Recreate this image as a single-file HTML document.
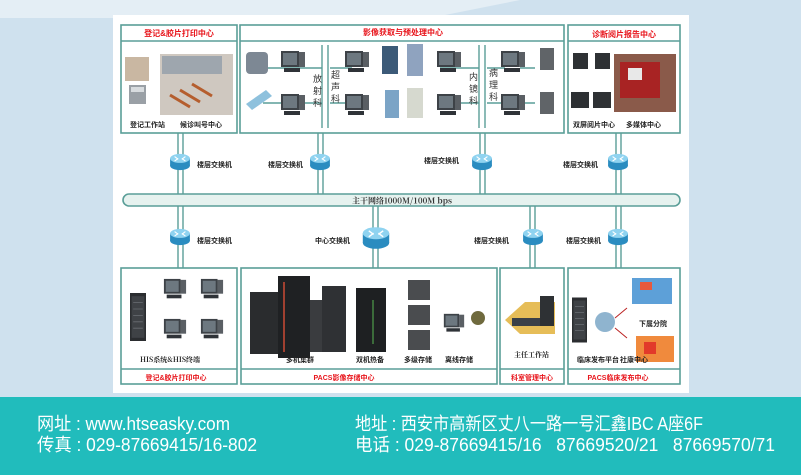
<!DOCTYPE html>
<html><head><meta charset="utf-8"><style>
html,body{margin:0;padding:0;width:801px;height:475px;overflow:hidden;background:#cfe1ee}
svg{display:block}
text{font-family:"Liberation Sans","Noto Sans CJK SC",sans-serif}
.cn{font-family:"Noto Serif CJK SC","Noto Sans CJK SC",serif;font-weight:bold}
</style></head><body>
<svg width="801" height="475" viewBox="0 0 801 475" xmlns="http://www.w3.org/2000/svg">
<defs>
<symbol id="mon" viewBox="0 0 26 26">
<rect x="1" y="1" width="18" height="16" fill="#3d4247"/><rect x="3" y="3" width="14" height="12" fill="#6d7880"/>
<rect x="19" y="2" width="6" height="15" fill="#5a5f64"/><rect x="4" y="18" width="16" height="4" fill="#2f3338"/>
</symbol>
<symbol id="sw" viewBox="0 0 24 20">
<ellipse cx="12" cy="14" rx="11" ry="5" fill="#2a8cc0"/><rect x="1" y="6" width="22" height="8" fill="#2a8cc0"/>
<ellipse cx="12" cy="6" rx="11" ry="5" fill="#8fd3f0"/>
<path d="M6 4 L10 7 M18 4 L14 7 M6 9 L10 6 M18 9 L14 6" stroke="#fff" stroke-width="1.2"/>
</symbol>
<symbol id="srv" viewBox="0 0 20 60">
<rect x="0" y="0" width="20" height="60" fill="#2b2d30"/><rect x="2" y="4" width="16" height="52" fill="#3f4246"/>
<path d="M4 12h12M4 20h12M4 28h12M4 36h12M4 44h12" stroke="#6a6e73"/>
</symbol>
</defs>
<rect width="801" height="475" fill="#cfe1ee"/>
<path d="M0 0 L520 0 L430 18 L0 18Z" fill="#e4eef5"/>
<rect x="113" y="15" width="576" height="378" fill="#fff"/>
<rect x="0" y="397" width="801" height="78" fill="#21bcbc"/>

<g fill="none" stroke="#5a9e98" stroke-width="1.6">
<rect x="121" y="25" width="116" height="108"/><line x1="121" y1="41" x2="237" y2="41"/>
<rect x="240" y="25" width="324" height="108"/><line x1="240" y1="41" x2="564" y2="41"/>
<rect x="568" y="25" width="112" height="108"/><line x1="568" y1="41" x2="680" y2="41"/>
<rect x="121" y="268" width="116" height="116"/><line x1="121" y1="369" x2="237" y2="369"/>
<rect x="241" y="268" width="256" height="116"/><line x1="241" y1="369" x2="497" y2="369"/>
<rect x="500" y="268" width="64" height="116"/><line x1="500" y1="369" x2="564" y2="369"/>
<rect x="568" y="268" width="112" height="116"/><line x1="568" y1="369" x2="680" y2="369"/>
</g>
<g stroke="#5a9e98" stroke-width="1.4">
<path d="M178 133V194M183 133V194M318 133V194M323 133V194M480 133V194M485 133V194M616 133V194M621 133V194"/>
<path d="M178 206V268M183 206V268M373 206V268M378 206V268M530 206V268M535 206V268M616 206V268M621 206V268"/>
<path d="M322 45V128M328 45V128M479 45V128M485 45V128"/>
<path d="M272 68H322M272 103H322M330 68H352M330 103H352M440 68H479M440 103H479M487 68H505M487 103H505M263 68H278M263 103H278M520 68H535M520 103H535"/>
</g>
<rect x="123" y="194" width="557" height="12" rx="6" fill="#e6f2ef" stroke="#5a9e98" stroke-width="1.6"/>
<text x="352" y="203.5" font-size="8" fill="#333" class="cn">主干网络1000M/100M bps</text>

<use href="#sw" x="169" y="153" width="22" height="18"/>
<use href="#sw" x="309" y="153" width="22" height="18"/>
<use href="#sw" x="471" y="153" width="22" height="18"/>
<use href="#sw" x="607" y="153" width="22" height="18"/>
<use href="#sw" x="169" y="228" width="22" height="18"/>
<use href="#sw" x="361" y="226" width="30" height="24"/>
<use href="#sw" x="522" y="228" width="22" height="18"/>
<use href="#sw" x="607" y="228" width="22" height="18"/>
<g font-size="7" fill="#222" class="cn">
<text x="197" y="167">楼层交换机</text><text x="268" y="167">楼层交换机</text>
<text x="424" y="163">楼层交换机</text><text x="563" y="167">楼层交换机</text>
<text x="197" y="243">楼层交换机</text><text x="315" y="243">中心交换机</text>
<text x="474" y="243">楼层交换机</text><text x="566" y="243">楼层交换机</text>
</g>

<g font-size="8" fill="#e8141b" class="cn" text-anchor="middle">
<text x="179" y="36">登记&amp;胶片打印中心</text>
<text x="403" y="35">影像获取与预处理中心</text>
<text x="624" y="37">诊断阅片报告中心</text>
</g>
<rect x="125" y="57" width="24" height="24" fill="#c9b7a2"/>
<rect x="129" y="85" width="17" height="19" fill="#9aa0a6"/><rect x="131" y="87" width="13" height="5" fill="#d8dcdf"/>
<rect x="160" y="54" width="73" height="61" fill="#cfc8c0"/><rect x="162" y="56" width="60" height="18" fill="#9ea6ae"/>
<path d="M170 95l20 12M180 90l20 12M192 84l20 12" stroke="#b55e2e" stroke-width="3"/>
<g font-size="7" fill="#222" class="cn"><text x="130" y="127">登记工作站</text><text x="180" y="127">候诊叫号中心</text></g>
<rect x="246" y="52" width="22" height="22" rx="4" fill="#7d8894"/>
<path d="M246 104 l20 -14 l6 6 l-20 14z" fill="#8ec1dd"/>
<g>
<use href="#mon" x="280" y="50" width="26" height="26"/><use href="#mon" x="280" y="93" width="26" height="26"/>
<use href="#mon" x="344" y="50" width="26" height="26"/><use href="#mon" x="344" y="93" width="26" height="26"/>
<use href="#mon" x="436" y="50" width="26" height="26"/><use href="#mon" x="436" y="93" width="26" height="26"/>
<use href="#mon" x="500" y="50" width="26" height="26"/><use href="#mon" x="500" y="93" width="26" height="26"/>
</g>
<rect x="382" y="46" width="16" height="28" fill="#3c5a78"/><rect x="385" y="90" width="14" height="28" fill="#7ba4c6"/>
<rect x="407" y="44" width="16" height="32" fill="#8fa3bf"/><rect x="407" y="88" width="16" height="30" fill="#d6d9cf"/>
<rect x="540" y="48" width="14" height="22" fill="#606468"/><rect x="540" y="92" width="14" height="22" fill="#606468"/>
<g font-size="9" fill="#333"><text x="313" y="82">放</text><text x="313" y="94">射</text><text x="313" y="106">科</text>
<text x="331" y="78">超</text><text x="331" y="90">声</text><text x="331" y="102">科</text>
<text x="469" y="80">内</text><text x="469" y="92">镜</text><text x="469" y="104">科</text>
<text x="489" y="76">病</text><text x="489" y="88">理</text><text x="489" y="100">科</text></g>
<rect x="573" y="53" width="15" height="16" fill="#2e3134"/><rect x="595" y="53" width="15" height="16" fill="#2e3134"/>
<rect x="571" y="92" width="18" height="16" fill="#2e3134"/><rect x="593" y="92" width="18" height="16" fill="#2e3134"/>
<rect x="614" y="54" width="62" height="58" fill="#8a5a4a"/><rect x="620" y="62" width="40" height="36" fill="#a82323"/><rect x="628" y="68" width="14" height="12" fill="#e8e8e8"/>
<g font-size="7" fill="#222" class="cn"><text x="573" y="127">双屏阅片中心</text><text x="626" y="127">多媒体中心</text></g>

<use href="#srv" x="130" y="288" width="16" height="58"/>
<use href="#mon" x="163" y="278" width="24" height="24"/><use href="#mon" x="200" y="278" width="24" height="24"/>
<use href="#mon" x="163" y="318" width="24" height="24"/><use href="#mon" x="200" y="318" width="24" height="24"/>
<text x="140" y="362" font-size="7" fill="#222" class="cn">HIS系统&amp;HIS终端</text>
<rect x="250" y="292" width="28" height="62" fill="#2a2c2e"/><rect x="278" y="276" width="32" height="82" fill="#1f2123"/><rect x="283" y="282" width="2" height="70" fill="#a04030"/>
<rect x="310" y="300" width="16" height="52" fill="#3a3c3f"/><rect x="322" y="286" width="24" height="66" fill="#2f3134"/>
<rect x="356" y="288" width="30" height="64" fill="#1e2022"/><rect x="372" y="300" width="2" height="44" fill="#3b6b3a"/>
<rect x="408" y="280" width="22" height="20" fill="#4a4c4f"/><rect x="408" y="305" width="22" height="20" fill="#4a4c4f"/><rect x="408" y="330" width="22" height="20" fill="#4a4c4f"/>
<use href="#mon" x="443" y="313" width="22" height="22"/><circle cx="478" cy="318" r="7" fill="#6f6a3e"/>
<g font-size="7" fill="#222" class="cn"><text x="286" y="362">多机集群</text><text x="356" y="362">双机热备</text><text x="404" y="362">多级存储</text><text x="445" y="362">离线存储</text></g>
<path d="M505 320 l20 -18 h30 v32 h-35z" fill="#e6bd58"/><rect x="512" y="318" width="30" height="8" fill="#3a4048"/><rect x="540" y="296" width="14" height="30" fill="#2e3134"/>
<text x="514" y="357" font-size="7" fill="#222" class="cn">主任工作站</text>
<use href="#srv" x="572" y="292" width="15" height="56"/>
<circle cx="605" cy="322" r="10" fill="#8fb4cf"/>
<rect x="632" y="278" width="40" height="26" fill="#5da0d8"/><rect x="640" y="282" width="12" height="8" fill="#e6593d"/>
<rect x="636" y="336" width="38" height="26" fill="#f08a3d"/><rect x="644" y="342" width="12" height="12" fill="#e23a2a"/>
<path d="M615 318 l12 -10 M615 328 l12 10" stroke="#b22" stroke-width="1"/>
<g font-size="7" fill="#222" class="cn"><text x="639" y="326">下属分院</text><text x="577" y="362">临床发布平台</text><text x="620" y="362">社康中心</text></g>
<g font-size="7" fill="#e8141b" text-anchor="middle" class="cn">
<text x="176" y="380">登记&amp;胶片打印中心</text>
<text x="344" y="380">PACS影像存储中心</text>
<text x="532" y="380">科室管理中心</text>
<text x="618" y="380">PACS临床发布中心</text>
</g>

<g font-size="18" fill="#fff">
<text x="37" y="430" textLength="193" lengthAdjust="spacingAndGlyphs">网址 : www.htseasky.com</text>
<text x="37" y="451" textLength="220" lengthAdjust="spacingAndGlyphs">传真 : 029-87669415/16-802</text>
<text x="355" y="430" textLength="348" lengthAdjust="spacingAndGlyphs">地址 : 西安市高新区丈八一路一号汇鑫IBC A座6F</text>
<text x="355" y="451" textLength="420" lengthAdjust="spacingAndGlyphs">电话 : 029-87669415/16&#160;&#160;&#160;87669520/21&#160;&#160;&#160;87669570/71</text>
</g>
</svg>
</body></html>
